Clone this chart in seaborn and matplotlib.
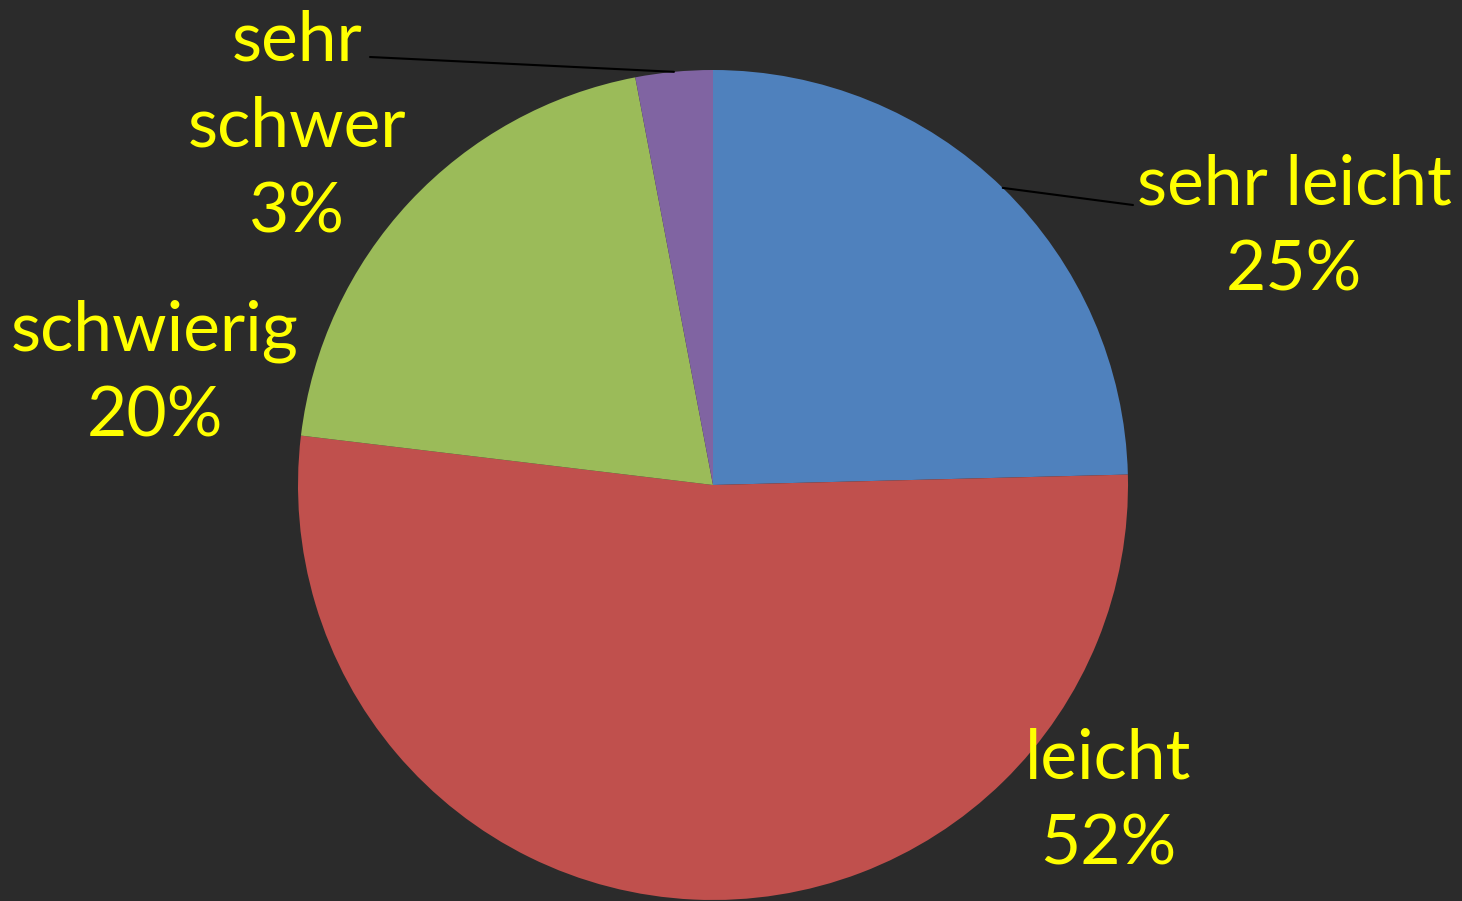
import numpy as np
import matplotlib
matplotlib.use("Agg")
import matplotlib.pyplot as plt
import seaborn as sns

# slice data, clockwise from 12 o'clock
labels = ["sehr leicht", "leicht", "schwierig", "sehr\nschwer"]
shares = [24.6, 52.3, 20.1, 3.0]
colors = ["#4F81BD", "#C0504D", "#9BBB59", "#8064A2"]

# label placement (pixel coords, y up) and leader line ends
label_pos = [(1294, 673), (1108, 99), (155, 527), (297, 774)]
leader_end = [(1133, 696), None, None, (370, 844)]

sns.set_theme(style="dark")
plt.rcParams["font.family"] = ["Lato", "DejaVu Sans"]

bg = "#2b2b2b"
fig = plt.figure(figsize=(14.62, 9.01), dpi=100, facecolor=bg)
ax = fig.add_axes([0, 0, 1, 1])
ax.set_facecolor(bg)

cx, cy, r = 713, 416, 415
wedges, _ = ax.pie(shares, colors=colors, startangle=90, counterclock=False,
                   center=(cx, cy), radius=r, frame=True,
                   wedgeprops=dict(linewidth=0, edgecolor="none"))

for w, name, val, pos, end in zip(wedges, labels, shares, label_pos, leader_end):
    ax.text(pos[0], pos[1], f"{name}\n{round(val)}%", color="#FFFF00",
            fontsize=50, ha="center", va="center", linespacing=1.45)
    if end is not None:
        mid = np.deg2rad((w.theta1 + w.theta2) / 2)
        x0, y0 = cx + r * np.cos(mid), cy + r * np.sin(mid)
        ax.plot([x0, end[0]], [y0, end[1]], color="black", lw=1.5)

ax.set_xlim(0, 1462)
ax.set_ylim(0, 901)
ax.set_aspect("equal")
ax.axis("off")

fig.savefig("out.png", dpi=100, facecolor=bg)
